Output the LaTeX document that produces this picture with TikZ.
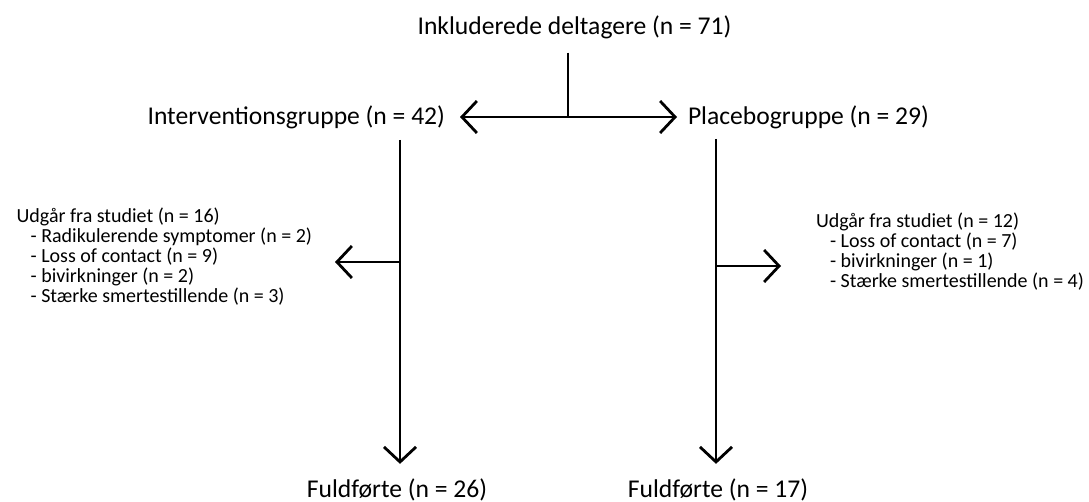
\documentclass[tikz,border=0pt]{standalone}
\usepackage{fontspec}
\setmainfont{Carlito}
\usetikzlibrary{arrows.meta}
\begin{document}
\begin{tikzpicture}[x=1pt,y=-1pt,
  line/.style={line width=2.8pt},
  arr/.style={line, -{Straight Barb[length=15pt,width=32pt,line width=2.8pt]}},
  big/.style={font=\fontsize{25.6}{30}\selectfont, inner sep=0pt},
  small/.style={font=\fontsize{20}{20}\selectfont, align=left, inner sep=0pt},
]
\useasboundingbox (0,0) rectangle (1089,502);
% main nodes
\node[big, outer ysep=14pt] (top) at (574.5,27) {Inkluderede deltagere (n = 71)};
\node[big, anchor=east, outer xsep=15pt] (interv) at (460,117) {Interventionsgruppe (n = 42)};
\node[big, anchor=west, outer xsep=11pt] (placebo) at (677,117) {Placebogruppe (n = 29)};
\node[big, outer ysep=15pt] (f1) at (397,490) {Fuldførte (n = 26)};
\node[big, outer ysep=15pt] (f2) at (718,490) {Fuldførte (n = 17)};
\node[small, anchor=east, outer xsep=23pt] (drop1) at (335,257)
  {Udgår fra studiet (n = 16)\\
   \hspace*{14pt}- Radikulerende symptomer (n = 2)\\
   \hspace*{14pt}- Loss of contact (n = 9)\\
   \hspace*{14pt}- bivirkninger (n = 2)\\
   \hspace*{14pt}- Stærke smertestillende (n = 3)};
\node[small, anchor=west, outer xsep=35pt] (drop2) at (781,252)
  {Udgår fra studiet (n = 12)\\
   \hspace*{14pt}- Loss of contact (n = 7)\\
   \hspace*{14pt}- bivirkninger (n = 1)\\
   \hspace*{14pt}- Stærke smertestillende (n = 4)};
% junction coordinates
\coordinate (j) at (568,117);
\coordinate (lv) at (400,140);
\coordinate (rv) at (716,139);
\coordinate (ls) at (400,262);
\coordinate (rs) at (716,266);
% connectors
\draw[line] (j |- top.south) -- (j);
\draw[arr] (j) -- (interv.east);
\draw[arr] (j) -- (placebo.west);
\draw[arr] (lv) -- (lv |- f1.north);
\draw[arr] (rv) -- (rv |- f2.north);
\draw[arr] (ls) -- (ls -| drop1.east);
\draw[arr] (rs) -- (rs -| drop2.west);
\end{tikzpicture}
\end{document}
